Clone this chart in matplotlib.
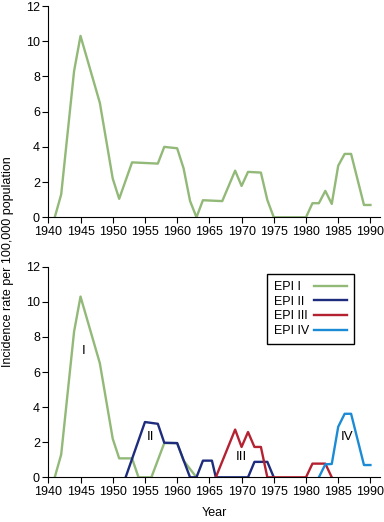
import matplotlib
matplotlib.use('Agg')
import matplotlib.pyplot as plt
from matplotlib.transforms import Bbox

plt.rcParams['font.family'] = ['Liberation Sans', 'DejaVu Sans']
plt.rcParams['font.size'] = 9

# top panel: all epidemics together
total_years = [1941, 1942, 1944, 1945, 1948, 1950, 1951, 1953, 1957, 1958, 1960, 1961,
               1962, 1963, 1964, 1967, 1969, 1970, 1971, 1973, 1974, 1975, 1980, 1981,
               1982, 1983, 1984, 1985, 1986, 1987, 1989, 1990]
total_rate = [0, 1.3, 8.3, 10.3, 6.5, 2.2, 1.05, 3.12, 3.05, 4.0, 3.92, 2.78,
              0.93, 0, 0.97, 0.92, 2.65, 1.78, 2.58, 2.54, 0.98, 0, 0, 0.8,
              0.8, 1.5, 0.76, 2.93, 3.6, 3.6, 0.7, 0.7]

# bottom panel: split by epidemic
epi1_years = [1941, 1942, 1944, 1945, 1948, 1950, 1951, 1953, 1954, 1956, 1958, 1960, 1961, 1963]
epi1_rate = [0, 1.3, 8.3, 10.3, 6.5, 2.2, 1.08, 1.08, 0, 0, 1.95, 1.95, 0.95, 0]
epi2_years = [1952, 1955, 1957, 1958, 1960, 1962, 1963, 1964, 1965.4, 1966, 1971, 1972, 1974, 1975]
epi2_rate = [0, 3.15, 3.05, 1.97, 1.95, 0, 0, 0.95, 0.95, 0, 0, 0.88, 0.88, 0]
epi3_years = [1966, 1969, 1970, 1971, 1972, 1973, 1974, 1980, 1981, 1983, 1984]
epi3_rate = [0, 2.72, 1.73, 2.58, 1.73, 1.73, 0, 0, 0.78, 0.78, 0]
epi4_years = [1982, 1983, 1984, 1985, 1986, 1987, 1989, 1990]
epi4_rate = [0, 0.74, 0.76, 2.88, 3.62, 3.62, 0.7, 0.7]

labels = ['EPI I', 'EPI II', 'EPI III', 'EPI IV']
colors = ['#92b978', '#1d2c7c', '#b42131', '#1b8bd6']
roman = ['I', 'II', 'III', 'IV']
roman_pos = [(1945.5, 7.2), (1955.9, 2.3), (1969.9, 1.15), (1986.3, 2.3)]

fig = plt.figure(figsize=(3.84, 5.22), dpi=100)
ax1 = fig.add_axes([0.1258, 0.5837, 0.864, 0.4048])
ax2 = fig.add_axes([0.1258, 0.0856, 0.864, 0.4034])

ax1.plot(total_years, total_rate, color=colors[0], lw=1.7)

series = [(epi1_years, epi1_rate), (epi2_years, epi2_rate),
          (epi3_years, epi3_rate), (epi4_years, epi4_rate)]
for (x, y), lab, c in zip(series, labels, colors):
    ax2.plot(x, y, color=c, lw=1.7, label=lab)
for txt, (x, y) in zip(roman, roman_pos):
    ax2.text(x, y, txt, ha='center', va='center', fontsize=9.5)

for ax in (ax1, ax2):
    ax.set_xlim(1940, 1991.5)
    ax.set_ylim(0, 12)
    ax.set_xticks(range(1940, 1991, 5))
    ax.set_yticks(range(0, 13, 2))
    ax.spines['top'].set_visible(False)
    ax.spines['right'].set_visible(False)
    ax.tick_params(direction='out', length=4, width=0.8, pad=2)

leg = ax2.legend(loc='upper right', bbox_to_anchor=(0.92, 0.965), borderaxespad=0,
                 markerfirst=False, fancybox=False, edgecolor='black',
                 handlelength=2.6, handletextpad=0.4, labelspacing=0.22,
                 borderpad=0.55, framealpha=1)
leg.get_frame().set_linewidth(1.0)

# keep the label text left aligned with the handles lined up on the right
rows = leg._legend_handle_box.get_children()[0].get_children()
text_areas = [r.get_children()[0] for r in rows]
orig_bbox = [ta.get_bbox for ta in text_areas]


def fixed_bbox(renderer, i):
    widths = [f(renderer).width for f in orig_bbox]
    bb = orig_bbox[i](renderer)
    return Bbox.from_bounds(bb.x0, bb.y0, max(widths), bb.height)


for i, ta in enumerate(text_areas):
    ta.get_bbox = lambda renderer, i=i: fixed_bbox(renderer, i)

ax2.set_xlabel('Year', labelpad=7)
fig.text(0.021, 0.498, 'Incidence rate per 100,000 population', rotation=90,
         ha='center', va='center')

fig.savefig('out.png', dpi=100)
